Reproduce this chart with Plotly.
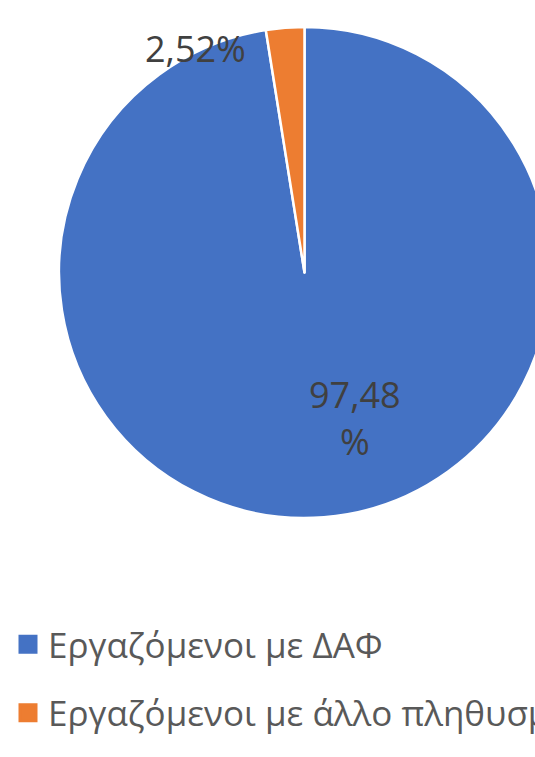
import plotly.graph_objects as go

# ---- data ----
categories = ["Εργαζόμενοι με ΔΑΦ", "Εργαζόμενοι με άλλο πληθυσμό"]
values = [97.48, 2.52]
colors = ["#4472C4", "#ED7D31"]

def fmt(v):
    return f"{v:.2f}".replace(".", ",")

W, H = 560, 757
FONT = "Open Sans"

fig = go.Figure()
fig.add_trace(go.Pie(
    labels=categories,
    values=values,
    sort=False,
    direction="clockwise",
    rotation=0,
    marker=dict(colors=colors, line=dict(color="white", width=2.5)),
    textinfo="none",
    hoverinfo="label+percent",
    showlegend=False,
    domain=dict(x=[59 / W, 550 / W], y=[1 - 518 / H, 1 - 27 / H]),
))

# legend proxies (one per category, larger square symbols)
for i, (cat, col) in enumerate(zip(categories, colors)):
    fig.add_trace(go.Scatter(
        x=[None], y=[None], mode="markers", name=cat,
        legendgroup=f"g{i}",
        marker=dict(symbol="square", size=16, color=col, line=dict(color=col, width=3)),
        showlegend=True, hoverinfo="skip",
    ))

annotations = [
    dict(text=f"{fmt(values[0])}<br>%", x=355 / W, y=1 - 418 / H, xref="paper", yref="paper",
         xanchor="center", yanchor="middle",
         showarrow=False, font=dict(family=FONT, size=36, color="#404040"), align="center"),
    dict(text=f"{fmt(values[1])}%", x=195 / W, y=1 - 48 / H, xref="paper", yref="paper",
         xanchor="center", yanchor="middle",
         showarrow=False, font=dict(family=FONT, size=36, color="#404040")),
]

fig.update_layout(
    width=W, height=H,
    margin=dict(l=0, r=0, t=0, b=0, autoexpand=False),
    paper_bgcolor="white", plot_bgcolor="white",
    xaxis=dict(visible=False), yaxis=dict(visible=False),
    showlegend=True,
    legend=dict(
        x=8 / W, xanchor="left", y=1 - 615 / H, yanchor="top",
        font=dict(family=FONT, size=35, color="#595959"),
        tracegroupgap=20, bgcolor="rgba(0,0,0,0)",
    ),
    annotations=annotations,
)

fig.write_html(
    "out.html",
    config={"displayModeBar": False},
    post_script="document.body.style.margin='0';document.body.style.overflow='hidden';",
)
